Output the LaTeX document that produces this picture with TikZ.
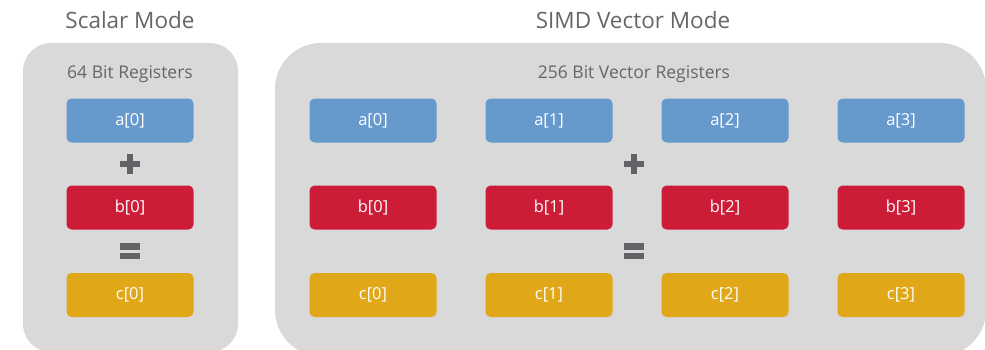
\documentclass[tikz,border=0pt]{standalone}
\usepackage{fontspec}
\setmainfont{Open Sans}
\definecolor{panelgray}{HTML}{D9D9D9}
\definecolor{txtgray}{HTML}{666666}
\definecolor{opgray}{HTML}{616366}
\definecolor{regblue}{HTML}{6699CC}
\definecolor{regred}{HTML}{CC1C38}
\definecolor{regyellow}{HTML}{E0A818}
\tikzset{
  panel/.style={fill=panelgray, draw=none},
  title/.style={text=txtgray, font=\fontsize{22.5}{26}\selectfont, inner sep=0pt},
  subtitle/.style={text=txtgray, font=\fontsize{17.5}{20}\selectfont, inner sep=0pt},
  reg/.style={minimum width=127pt, minimum height=44pt, rounded corners=5pt, draw=none, text=white, font=\fontsize{16.5}{19}\selectfont, inner sep=0pt},
  rega/.style={reg, fill=regblue},
  regb/.style={reg, fill=regred},
  regc/.style={reg, fill=regyellow},
  opbar/.style={fill=opgray, draw=none}
}
\newcommand{\plussign}[1]{%
  \fill[opbar] ($(#1)+(-10,-3.3)$) rectangle ($(#1)+(10,3.3)$);
  \fill[opbar] ($(#1)+(-3.3,-10)$) rectangle ($(#1)+(3.3,10)$);}
\newcommand{\eqsign}[1]{%
  \fill[opbar] ($(#1)+(-10,-8)$) rectangle ($(#1)+(10,-1.5)$);
  \fill[opbar] ($(#1)+(-10,1.5)$) rectangle ($(#1)+(10,8)$);}
\usetikzlibrary{calc}
\begin{document}
\begin{tikzpicture}[x=1pt,y=-1pt]
\useasboundingbox (0,0) rectangle (985,349);
\begin{scope}
\clip (0,0) rectangle (985,349);
\fill[panel, rounded corners=28pt] (23,43) rectangle (238,352);
\fill[panel, rounded corners=46pt] (275,43) rectangle (986,356);
\end{scope}
\node[title] (t1) at (130,20) {Scalar Mode};
\node[title] (t2) at (633,20) {SIMD Vector Mode};
\node[subtitle] (s1) at (130,74) {64 Bit Registers};
\node[subtitle] (s2) at (634,74) {256 Bit Vector Registers};
% scalar
\node[rega] (sa) at (130,120.5) {a[0]};
\node[regb] (sb) at (130,207.5) {b[0]};
\node[regc] (sc) at (130,295) {c[0]};
\coordinate (splus) at (130,164);
\coordinate (seq) at (130,251);
\plussign{splus}
\eqsign{seq}
% vector
\foreach \i/\x in {0/373,1/549,2/725,3/901}{
  \node[rega] (va\i) at (\x,120.5) {a[\i]};
  \node[regb] (vb\i) at (\x,207.5) {b[\i]};
  \node[regc] (vc\i) at (\x,295) {c[\i]};
}
\coordinate (vplus) at (634,164);
\coordinate (veq) at (634,251);
\plussign{vplus}
\eqsign{veq}
\end{tikzpicture}
\end{document}
